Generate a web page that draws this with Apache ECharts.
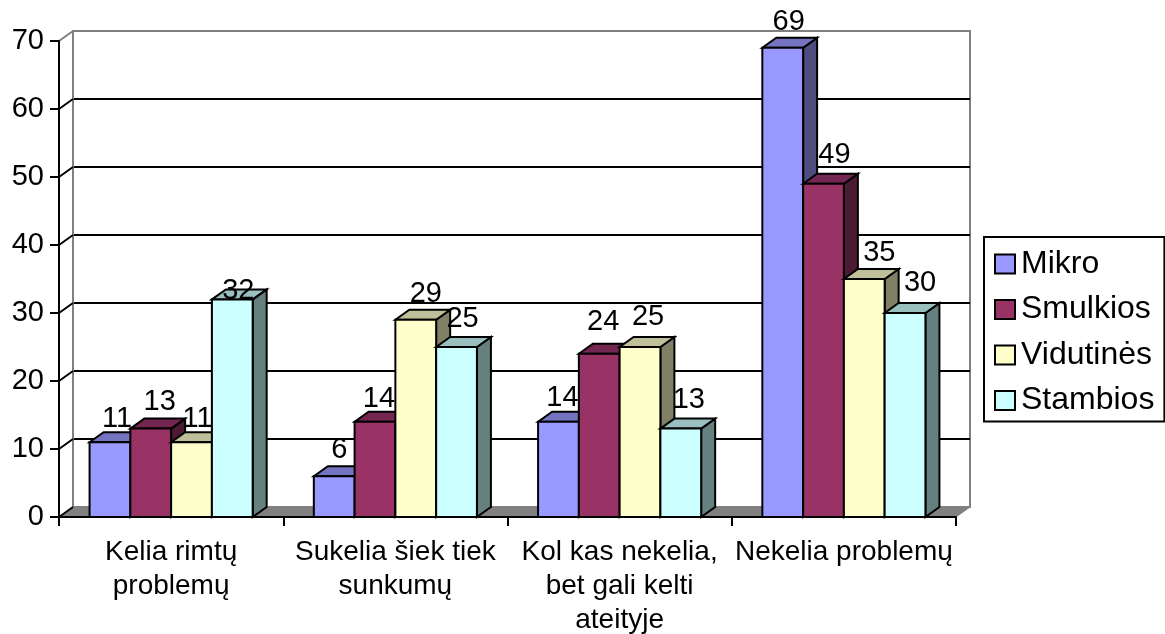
<!DOCTYPE html>
<html><head><meta charset="utf-8">
<style>html,body{margin:0;padding:0;background:#fff}#c{width:1165px;height:634px}</style>
<script src="https://cdn.jsdelivr.net/npm/echarts@6/dist/echarts.min.js"></script>
</head><body><div id="c"></div>
<script>
const categories = ['Kelia rimtų\nproblemų','Sukelia šiek tiek\nsunkumų','Kol kas nekelia,\nbet gali kelti\nateityje','Nekelia problemų'];
const seriesNames = ['Mikro','Smulkios','Vidutinės','Stambios'];
const mikro = [11,6,14,69];
const smulkios = [13,14,24,49];
const vidutines = [11,29,25,35];
const stambios = [32,25,13,30];
const yTicks = [0,10,20,30,40,50,60,70];

// styling and layout, separate from the data
const front = ['#9999FF','#993366','#FFFFCC','#CCFFFF'];
const top3d = ['#7373BF','#732650','#BFBF99','#99BFBF'];
const side3d = ['#4D4D80','#4D1A33','#808066','#668080'];
const DX = 14, DY = 10;
const labelDx = [[7,5,4,6],[9,4,4,11],[6,10,8,15],[6,6,8,15]];
const labelDy = [[23,26.5,23.5,26],[26.5,22.5,31.5,29],[23,25.5,30.5,26.5],[8,28.5,28.5,30]];
const all = [mikro,smulkios,vidutines,stambios];
const FONT = 'Liberation Sans';
const FS_AXIS = 29, FS_CAT = 28, FS_LABEL = 29, FS_LEGEND = 32;

function barGeom(api, s, i, v){
  const band = api.size([1,0])[0];
  const w = band/5.5;
  const c = api.coord([i,v]);
  const b = api.coord([i,0]);
  const x0 = c[0]-band/2+0.75*w+s*w;
  return {x0:x0,x1:x0+w,yt:c[1],yb:b[1],w:w};
}
function poly(points, fill){
  return {type:'polygon',shape:{points:points},style:{fill:fill,stroke:'#000',lineWidth:2,lineJoin:'miter'}};
}
function barSeries(s){
  return {
    type:'custom',name:seriesNames[s],coordinateSystem:'cartesian2d',xAxisIndex:0,yAxisIndex:0,z:3+s,
    itemStyle:{color:front[s]},silent:true,
    data:all[s].map((v,i)=>[i,v]),
    renderItem:function(p,api){
      const g=barGeom(api,s,api.value(0),api.value(1));
      return {type:'group',children:[
        poly([[g.x1,g.yb],[g.x1+DX,g.yb-DY],[g.x1+DX,g.yt-DY],[g.x1,g.yt]],side3d[s]),
        poly([[g.x0,g.yt],[g.x0+DX,g.yt-DY],[g.x1+DX,g.yt-DY],[g.x1,g.yt]],top3d[s]),
        poly([[g.x0,g.yb],[g.x0,g.yt],[g.x1,g.yt],[g.x1,g.yb]],front[s])
      ]};
    }
  };
}
function labelSeries(s){
  return {
    type:'custom',coordinateSystem:'cartesian2d',xAxisIndex:0,yAxisIndex:0,z:20,silent:true,
    data:all[s].map((v,i)=>[i,v]),
    renderItem:function(p,api){
      const i=api.value(0),v=api.value(1);
      const g=barGeom(api,s,i,v);
      return {type:'text',style:{text:String(v),x:(g.x0+g.x1)/2+labelDx[s][i],y:g.yt-labelDy[s][i],
        fill:'#000',font:FS_LABEL+'px "'+FONT+'"',textAlign:'center',textVerticalAlign:'middle'}};
    }
  };
}
const floorSeries = {
  type:'custom',coordinateSystem:'cartesian2d',xAxisIndex:0,yAxisIndex:0,z:2,silent:true,data:[[0,0]],
  renderItem:function(p,api){
    const y=api.coord([0,0])[1], cs=p.coordSys;
    return {type:'polygon',shape:{points:[[cs.x,y],[cs.x+DX,y-DY],[cs.x+cs.width+DX,y-DY],[cs.x+cs.width,y]]},
      style:{fill:'#808080',stroke:'#808080',lineWidth:1}};
  }
};
const sideLines = {
  type:'custom',coordinateSystem:'cartesian2d',xAxisIndex:0,yAxisIndex:0,z:2,silent:true,
  data:yTicks.map(t=>[0,t]),
  renderItem:function(p,api){
    const t=api.value(1), y=api.coord([0,t])[1], x=p.coordSys.x;
    return {type:'line',shape:{x1:x,y1:y,x2:x+DX,y2:y-DY},
      style:{stroke:(t===70?'#808080':'#000'),lineWidth:2}};
  }
};
const fs = seriesNames.map((n,s)=>barSeries(s));
const ls = seriesNames.map((n,s)=>labelSeries(s));
const chart = echarts.init(document.getElementById('c'),null,{renderer:'canvas'});
chart.setOption({
  animation:false,backgroundColor:'#fff',
  textStyle:{fontFamily:FONT,color:'#000'},
  legend:{
    orient:'vertical',left:984,top:237,
    padding:[11,10,5,10],itemGap:13.5,itemWidth:20,itemHeight:19,
    backgroundColor:'#fff',borderColor:'#000',borderWidth:2,borderRadius:0,
    selectedMode:false,
    textStyle:{fontFamily:FONT,fontSize:FS_LEGEND,color:'#000',height:30,lineHeight:30,padding:[0,0,0,1]},
    data:seriesNames.map((n,s)=>({name:n,icon:'rect',itemStyle:{color:front[s],borderColor:'#000',borderWidth:2}}))
  },
  grid:[
    {left:59,right:209,top:41,bottom:117,containLabel:false,outerBoundsMode:'none'},
    {left:59+DX,right:209-DX,top:41-DY,bottom:117+DY,show:true,borderColor:'#808080',borderWidth:2,backgroundColor:'#fff',outerBoundsMode:'none'}
  ],
  xAxis:[
    {type:'category',gridIndex:0,data:categories,z:10,
      axisLine:{lineStyle:{color:'#000',width:2}},
      axisTick:{show:true,length:9,lineStyle:{color:'#000',width:2},alignWithLabel:false},
      axisLabel:{fontFamily:FONT,fontSize:FS_CAT,color:'#000',lineHeight:34,margin:18,interval:0}},
    {type:'category',gridIndex:1,data:categories,show:false}
  ],
  yAxis:[
    {type:'value',gridIndex:0,min:0,max:70,interval:10,z:10,
      axisLine:{show:true,lineStyle:{color:'#000',width:2}},
      axisTick:{show:true,length:9,lineStyle:{color:'#000',width:2}},
      axisLabel:{fontFamily:FONT,fontSize:FS_AXIS,color:'#000',margin:15},
      splitLine:{show:false}},
    {type:'value',gridIndex:1,min:0,max:70,interval:10,
      axisLine:{show:true,lineStyle:{color:'#808080',width:2}},
      axisTick:{show:false},axisLabel:{show:false},
      splitLine:{show:true,lineStyle:{width:2,color:['#808080','#000','#000','#000','#000','#000','#000','#808080']}}}
  ],
  series:[floorSeries,sideLines].concat(fs,ls)
});
</script></body></html>
